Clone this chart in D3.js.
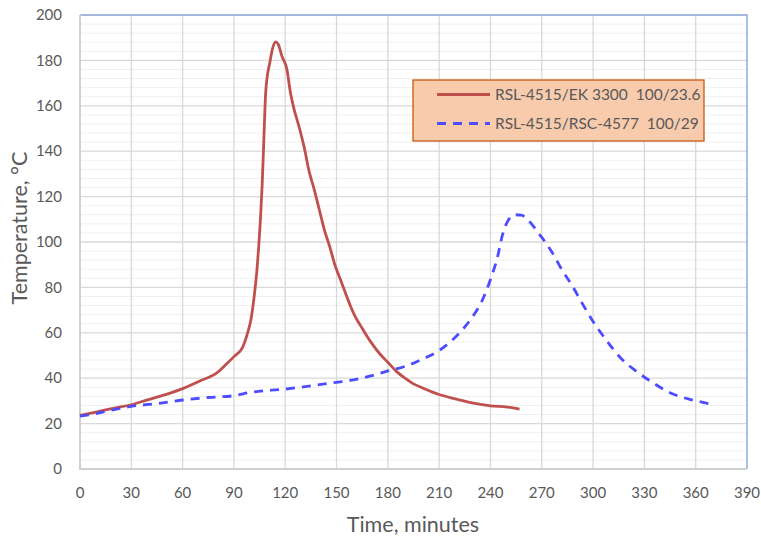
<!DOCTYPE html>
<html>
<head>
<meta charset="utf-8">
<script src="https://cdn.jsdelivr.net/npm/d3@7"></script>
<style>
  body { margin: 0; background: #fff; }
  text { font-family: Lato, "Noto Sans", sans-serif; fill: #595959; }
</style>
</head>
<body>
<svg id="chart" width="761" height="539"></svg>
<script>
// series 1: RSL-4515/EK 3300 100/23.6  [minutes, temperature]
const ekTime = [0, 10, 20, 30, 40, 50, 60, 70, 80, 85, 90, 95, 98, 100, 102, 103.5, 104.5, 105.5, 106.5, 107.5, 108.5, 109.5, 111, 112.5, 114.5, 116, 118, 121, 123, 125, 128, 131, 134, 137, 140, 143, 146, 149, 152, 155, 158, 161, 165, 170, 175, 180, 185, 190, 195, 200, 210, 220, 230, 240, 250, 257];
const ekTemp = [23.6, 25.2, 26.8, 28.3, 30.6, 32.8, 35.4, 38.8, 42.3, 45.8, 49.5, 53.5, 60, 66, 77, 88, 98, 110, 125, 145, 165, 173, 179, 185, 188.2, 187, 182, 176, 166, 159, 151, 142, 131, 123, 114, 105, 98, 90, 84, 78, 72, 67, 62, 56, 51, 47, 43, 40, 37.5, 35.8, 32.8, 30.8, 29, 27.8, 27.3, 26.4];

// series 2: RSL-4515/RSC-4577 100/29
const rscTime = [0, 10, 20, 30, 45, 60, 75, 90, 100, 120, 135, 150, 160, 170, 180, 190, 200, 210, 220, 228, 235, 240, 244, 247, 250.5, 254.5, 258, 261, 264, 268, 272, 276, 282, 288, 294, 300, 308, 316, 325, 335, 345, 357, 365, 370];
const rscTemp = [23.3, 24.5, 26.2, 27.6, 28.8, 30.4, 31.5, 32.3, 33.8, 35.2, 36.6, 38.2, 39.3, 41, 43.2, 45.2, 48.3, 52.2, 58.5, 65.5, 74, 83.5, 93, 103, 109.7, 112, 111.8, 110.5, 108, 104, 100, 95.5, 87.5, 80.5, 72.5, 65, 56.5, 49, 43.2, 38, 33.6, 30.6, 29.2, 28.5];

const seriesNames = ["RSL-4515/EK 3300  100/23.6", "RSL-4515/RSC-4577  100/29"];
const xTicks = d3.range(0, 391, 30);
const yTicks = d3.range(0, 201, 20);
const yMinor = d3.range(0, 201, 4);

const svg = d3.select("#chart");
const plotL = 80, plotR = 747, plotT = 15, plotB = 469;

const x = d3.scaleLinear().domain([0, 390]).range([plotL, plotR]);
const y = d3.scaleLinear().domain([0, 200]).range([plotB, plotT]);

// minor horizontal grid
svg.append("g").selectAll("line")
  .data(yMinor.filter(v => v % 20 !== 0))
  .join("line")
  .attr("x1", plotL).attr("x2", plotR)
  .attr("y1", d => y(d)).attr("y2", d => y(d))
  .attr("stroke", "#f0f0f0").attr("stroke-width", 1);

// major grid
svg.append("g").selectAll("line")
  .data(yTicks.slice(1))
  .join("line")
  .attr("x1", plotL).attr("x2", plotR)
  .attr("y1", d => y(d)).attr("y2", d => y(d))
  .attr("stroke", "#d9d9d9").attr("stroke-width", 1.3);

svg.append("g").selectAll("line")
  .data(xTicks.slice(1, -1))
  .join("line")
  .attr("x1", d => x(d)).attr("x2", d => x(d))
  .attr("y1", plotT).attr("y2", plotB)
  .attr("stroke", "#d9d9d9").attr("stroke-width", 1.3);

// plot area border (top/right)
svg.append("path")
  .attr("d", `M${plotL},${plotT}H${plotR}V${plotB}`)
  .attr("fill", "none")
  .attr("stroke", "#8eaadb").attr("stroke-width", 1.5);

// axes lines
svg.append("path")
  .attr("d", `M${plotL},${plotT}V${plotB}H${plotR}`)
  .attr("fill", "none")
  .attr("stroke", "#d0d0d0").attr("stroke-width", 2);

// tick labels
svg.append("g").selectAll("text")
  .data(yTicks)
  .join("text")
  .attr("x", 62).attr("y", d => y(d))
  .attr("dy", "0.35em")
  .attr("text-anchor", "end")
  .attr("font-size", 15)
  .text(d => d);

svg.append("g").selectAll("text")
  .data(xTicks)
  .join("text")
  .attr("x", d => x(d)).attr("y", 498)
  .attr("text-anchor", "middle")
  .attr("font-size", 15)
  .text(d => d);

// axis titles
svg.append("text")
  .attr("transform", "translate(27,228) rotate(-90)")
  .attr("text-anchor", "middle")
  .attr("font-size", 21.5)
  .text("Temperature, °C");

svg.append("text")
  .attr("x", 413).attr("y", 532)
  .attr("text-anchor", "middle")
  .attr("font-size", 21.5)
  .text("Time, minutes");

// lines
const line = d3.line()
  .x(d => x(d[0]))
  .y(d => y(d[1]))
  .curve(d3.curveMonotoneX);

svg.append("path")
  .datum(d3.zip(ekTime, ekTemp))
  .attr("d", line)
  .attr("fill", "none")
  .attr("stroke", "#c0504d")
  .attr("stroke-width", 2.8)
  .attr("stroke-linejoin", "round");

svg.append("path")
  .datum(d3.zip(rscTime, rscTemp))
  .attr("d", line)
  .attr("fill", "none")
  .attr("stroke", "#4d4dff")
  .attr("stroke-width", 2.8)
  .attr("stroke-dasharray", "9,7");

// legend
const legend = svg.append("g").attr("transform", "translate(413,80)");
legend.append("rect")
  .attr("width", 291).attr("height", 61)
  .attr("fill", "#f8cbad")
  .attr("stroke", "#c55a11").attr("stroke-width", 1.3);

const legendStyles = [
  { color: "#c0504d", dash: null },
  { color: "#4d4dff", dash: "9,7" }
];

const items = legend.selectAll("g.item")
  .data(seriesNames)
  .join("g")
  .attr("class", "item")
  .attr("transform", (d, i) => `translate(0,${14.5 + i * 29})`);

items.append("line")
  .attr("x1", 24).attr("x2", 77)
  .attr("stroke", (d, i) => legendStyles[i].color)
  .attr("stroke-width", 2.8)
  .attr("stroke-dasharray", (d, i) => legendStyles[i].dash);

items.append("text")
  .attr("x", 82).attr("dy", "0.35em")
  .attr("font-size", 15.5)
  .style("white-space", "pre")
  .text(d => d);
</script>
</body>
</html>
